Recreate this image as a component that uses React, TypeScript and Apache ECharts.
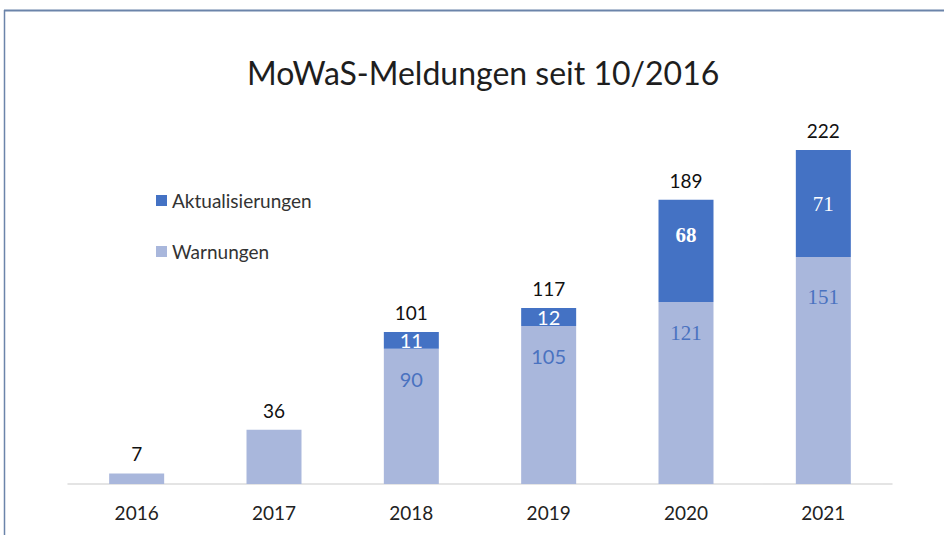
import React, { useEffect, useRef } from "react";
import * as echarts from "echarts";

const years = ["2016", "2017", "2018", "2019", "2020", "2021"];
const warnungen = [7, 36, 90, 105, 121, 151];
const aktualisierungen = [0, 0, 11, 12, 68, 71];
const totals = [7, 36, 101, 117, 189, 222];

const SANS = "Lato, 'Open Sans', sans-serif";
const SERIF = "'Liberation Serif', 'DejaVu Serif', serif";
const serifWarn = [false, false, false, false, true, true];
const serifAkt = [false, false, false, false, true, true];
const boldAkt = [false, false, false, false, true, false];

export default function App() {
  const ref = useRef<HTMLDivElement>(null);
  useEffect(() => {
    if (!ref.current) return;
    const chart = echarts.init(ref.current, null, { renderer: "svg" });
    chart.setOption({
      animation: false,
      backgroundColor: "#ffffff",
      title: {
        text: "MoWaS-Meldungen seit 10/2016",
        left: 242,
        top: 51,
        textStyle: { fontFamily: SANS, fontSize: 32, fontWeight: "normal", color: "#1e1e1e" },
      },
      legend: {
        data: ["Aktualisierungen", "Warnungen"],
        orient: "vertical",
        left: 151,
        top: 186,
        itemWidth: 11,
        itemHeight: 11,
        itemGap: 32,
        icon: "rect",
        textStyle: { fontFamily: SANS, fontSize: 19, color: "#333333" },
      },
      graphic: [
        { type: "line", shape: { x1: 4, y1: 10.5, x2: 944, y2: 10.5 }, style: { stroke: "#6b84aa", lineWidth: 2 } },
        { type: "line", shape: { x1: 4.5, y1: 10, x2: 4.5, y2: 535 }, style: { stroke: "#6b84aa", lineWidth: 1.5 } },
      ],
      grid: { left: 68, right: 52, top: 108, bottom: 51 },
      xAxis: {
        type: "category",
        data: years,
        axisLine: { lineStyle: { color: "#dcdcdc", width: 1.5 } },
        axisTick: { show: false },
        axisLabel: { margin: 19, fontFamily: SANS, fontSize: 19, color: "#222222" },
      },
      yAxis: { type: "value", min: 0, max: 250, show: false, splitLine: { show: false } },
      series: [
        {
          name: "Warnungen",
          type: "bar",
          stack: "a",
          barWidth: 55,
          itemStyle: { color: "#a9b7dc" },
          data: warnungen.map((v, i) => ({
            value: v,
            label: {
              show: i >= 2,
              position: "insideTop",
              distance: i === 5 ? 30 : 20,
              fontFamily: serifWarn[i] ? SERIF : SANS,
              fontSize: serifWarn[i] ? 21 : 20,
              color: "#4a72c0",
            },
          })),
        },
        {
          name: "Aktualisierungen",
          type: "bar",
          stack: "a",
          barWidth: 55,
          itemStyle: { color: "#4472c4" },
          data: aktualisierungen.map((v, i) => ({
            value: v,
            label: {
              show: v > 0,
              position: i === 4 ? "insideTop" : "inside",
              distance: 25,
              fontFamily: serifAkt[i] ? SERIF : SANS,
              fontSize: serifAkt[i] ? 21 : 20,
              fontWeight: boldAkt[i] ? "bold" : "normal",
              color: "#ffffff",
            },
          })),
        },
        {
          name: "Gesamt",
          type: "bar",
          stack: "a",
          barWidth: 55,
          itemStyle: { color: "rgba(0,0,0,0)" },
          data: totals.map(() => 0),
          label: {
            show: true,
            position: "top",
            distance: 10,
            fontFamily: SANS,
            fontSize: 19,
            color: "#111111",
            formatter: (p: any) => String(totals[p.dataIndex]),
          },
        },
      ],
    });
    return () => chart.dispose();
  }, []);
  return (
    <div
      ref={ref}
      style={{ position: "fixed", left: 0, top: 0, width: 944, height: 535 }}
    />
  );
}
